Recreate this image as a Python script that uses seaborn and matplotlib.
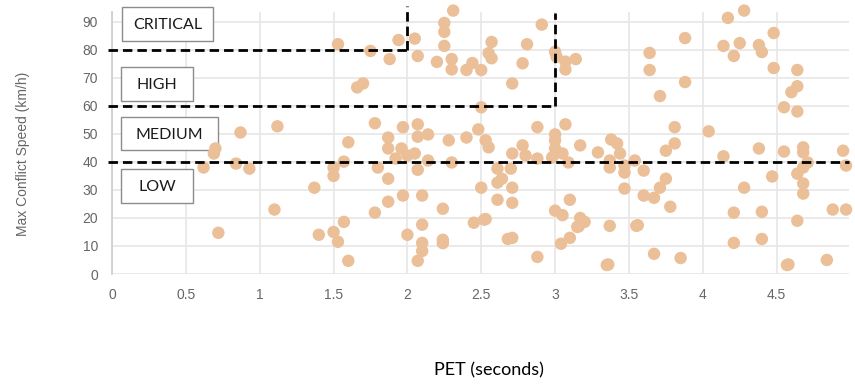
import numpy as np
import pandas as pd
import matplotlib
matplotlib.use('Agg')
import matplotlib.pyplot as plt
from matplotlib.patches import Rectangle
import seaborn as sns

# PET (seconds) and max conflict speed (km/h)
pet = [0.62, 0.69, 0.70, 0.72, 0.84, 0.87, 0.93, 1.10, 1.12, 1.37, 1.40,
       1.50, 1.50, 1.50, 1.53, 1.53, 1.57, 1.57, 1.60, 1.60, 1.66, 1.70, 1.75,
       1.78, 1.78, 1.80, 1.87, 1.87, 1.87, 1.87, 1.88, 1.92, 1.94, 1.96, 1.97,
       1.97, 2.00, 2.00,
       2.05, 2.05, 2.07, 2.07, 2.07, 2.07, 2.07, 2.10, 2.10, 2.10, 2.10, 2.14,
       2.14, 2.20, 2.24, 2.24, 2.24, 2.25, 2.25, 2.25, 2.28, 2.30, 2.30, 2.30,
       2.31, 2.40, 2.40, 2.44, 2.45, 2.48, 2.50, 2.50, 2.50, 2.52, 2.53, 2.53,
       2.55, 2.55, 2.57, 2.57,
       2.61, 2.61, 2.61, 2.64, 2.68, 2.70, 2.71, 2.71, 2.71, 2.71, 2.71, 2.78,
       2.78, 2.80, 2.81, 2.88, 2.88, 2.88, 2.91, 2.98, 3.00, 3.00, 3.00, 3.00,
       3.00,
       3.01, 3.04, 3.05, 3.05, 3.07, 3.07, 3.07, 3.09, 3.10, 3.10, 3.14, 3.15,
       3.16, 3.17, 3.17, 3.20, 3.29, 3.35, 3.36, 3.37, 3.37, 3.37, 3.38, 3.42,
       3.44, 3.47, 3.47, 3.47, 3.54, 3.55, 3.56,
       3.60, 3.60, 3.64, 3.64, 3.67, 3.67, 3.71, 3.71, 3.75, 3.75, 3.78, 3.81,
       3.81, 3.85, 3.88, 3.88,
       4.04, 4.14, 4.14, 4.17, 4.21, 4.21, 4.21, 4.25, 4.28, 4.28, 4.38, 4.38,
       4.40, 4.40, 4.40, 4.47, 4.48, 4.48, 4.55, 4.55, 4.57, 4.58, 4.60, 4.64,
       4.64, 4.64, 4.64, 4.64, 4.68, 4.68, 4.68, 4.68, 4.68, 4.71, 4.84, 4.88,
       4.95, 4.97, 4.97]
speed = [38.0, 43.0, 44.8, 14.7, 39.4, 50.5, 37.6, 23.0, 52.7, 30.8, 14.0,
         38.0, 35.0, 15.0, 11.5, 82.0, 40.1, 18.6, 47.0, 4.7, 66.6, 68.0, 79.6,
         53.8, 21.9, 38.0, 48.7, 44.8, 34.0, 25.8, 76.7, 41.2, 83.5, 44.8, 52.4,
         28.0, 42.3, 14.0,
         84.0, 43.0, 77.8, 53.4, 49.0, 37.2, 4.7, 28.0, 17.6, 11.1, 8.2, 49.8,
         40.5, 75.7, 23.3, 12.2, 11.0, 89.6, 86.4, 81.4, 47.7, 76.7, 73.0, 39.8,
         94.0, 72.8, 48.7, 75.3, 18.3, 51.6, 72.8, 59.5, 30.8, 19.4, 19.6, 47.7,
         78.8, 45.2, 77.0, 82.8,
         37.6, 32.6, 26.5, 34.0, 12.5, 37.6, 68.0, 43.0, 30.8, 25.4, 12.9, 75.2,
         45.9, 42.3, 82.0, 52.4, 41.2, 6.1, 89.0, 41.6, 79.3, 49.8, 47.7, 44.8,
         22.6,
         77.5, 10.8, 43.0, 21.0, 75.8, 73.0, 53.4, 39.8, 26.5, 12.9, 76.7, 16.8,
         17.0, 45.9, 20.0, 18.6, 43.4, 3.2, 3.4, 17.2, 40.5, 38.0, 48.0, 46.6,
         43.0, 38.7, 36.2, 30.5, 40.5, 17.2, 17.4,
         36.9, 28.0, 78.9, 72.8, 27.2, 7.2, 63.5, 30.8, 34.0, 44.0, 24.0, 52.4,
         46.6, 5.7, 84.2, 68.5,
         50.9, 81.4, 42.0, 91.4, 77.8, 21.9, 11.1, 82.4, 94.0, 30.8, 81.7, 44.8,
         79.2, 22.2, 12.5, 34.8, 86.0, 73.5, 59.5, 43.7, 3.2, 3.4, 64.9, 72.8,
         67.0, 58.0, 35.8, 19.0, 45.2, 43.4, 38.0, 32.3, 28.7, 39.8, 5.0, 23.0,
         44.0, 38.7, 23.0]

xticks = [0, 0.5, 1, 1.5, 2, 2.5, 3, 3.5, 4, 4.5]
xtick_labels = ['0', '0.5', '1', '1.5', '2', '2.5', '3', '3.5', '4', '4.5']
yticks = [0, 10, 20, 30, 40, 50, 60, 70, 80, 90]

bands = ['CRITICAL', 'HIGH', 'MEDIUM', 'LOW']

df = pd.DataFrame({'PET': pet, 'Speed': speed})

sns.set_style('white')
plt.rcParams['font.family'] = ['Liberation Sans', 'DejaVu Sans']

W, H = 855, 384
fig = plt.figure(figsize=(W / 100, H / 100), dpi=100)
ax = fig.add_axes([112 / W, 1 - 274 / H, (849 - 112) / W, (274 - 12) / H])

sns.scatterplot(data=df, x='PET', y='Speed', ax=ax, color='#ebbf98',
                s=80, edgecolor='none', clip_on=False, zorder=3)

ax.set_xlim(0, 4.99)
ax.set_ylim(0, 93.5)
ax.set_xticks(xticks)
ax.set_xticklabels(xtick_labels)
ax.set_yticks(yticks)
ax.grid(True, color='#e8e8e8', linewidth=1.3)
ax.set_axisbelow(True)
for side in ['top', 'right', 'bottom']:
    ax.spines[side].set_visible(False)
ax.spines['left'].set_color('#cccccc')
ax.spines['left'].set_linewidth(1.2)
ax.tick_params(axis='both', length=6, width=1.2, color='#bbbbbb',
               labelcolor='#666666', labelsize=10, pad=4)
ax.set_xlabel('')
ax.set_ylabel('')

# threshold lines
dash = dict(color='black', lw=2, linestyle=(0, (3.4, 1.8)), clip_on=False, zorder=4)
ax.plot([-0.03, 2.0], [80, 80], **dash)
ax.plot([2.0, 2.0], [80, 95.5], **dash)
ax.plot([-0.03, 3.0], [60, 60], **dash)
ax.plot([3.0, 3.0], [60, 93.3], **dash)
ax.plot([-0.03, 4.99], [40, 40], **dash)

# band label boxes, placed under the points
boxes = [(122, 7, 91, 34), (121, 67, 72, 34), (121, 117, 97, 33), (121, 169, 72, 34)]
for name, (bx, by, bw, bh) in zip(bands, boxes):
    ax.add_patch(Rectangle((bx / W, 1 - (by + bh) / H), bw / W, bh / H,
                           transform=fig.transFigure, facecolor='white',
                           edgecolor='#8c8c8c', linewidth=1.0, zorder=2.5,
                           clip_on=False))
    ax.text((bx + bw / 2) / W, 1 - (by + bh / 2 + 1) / H, name,
            transform=fig.transFigure, ha='center', va='center', fontsize=11.5,
            color='#1a1a1a', family=['Lato', 'DejaVu Sans'], zorder=2.6)

fig.text(23 / W, 1 - 154 / H, 'Max Conflict Speed (km/h)', rotation=90,
         ha='center', va='center', fontsize=10, color='#666666')
fig.text(489 / W, 1 - 370 / H, 'PET (seconds)', ha='center', va='center',
         fontsize=13, color='black', family=['Lato', 'DejaVu Sans'])

fig.savefig('out.png', dpi=100)
